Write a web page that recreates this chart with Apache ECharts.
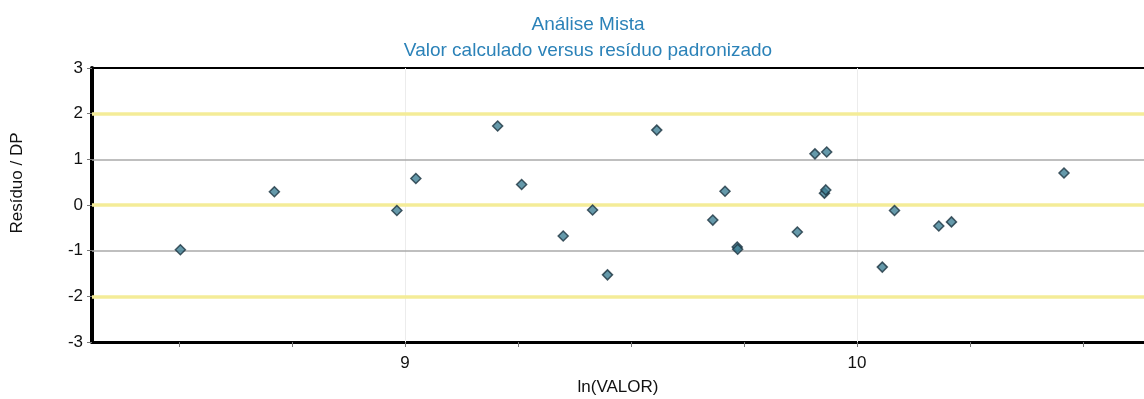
<!DOCTYPE html>
<html>
<head>
<meta charset="utf-8">
<title>Análise Mista</title>
<script src="https://cdn.jsdelivr.net/npm/echarts@6/dist/echarts.min.js"></script>
<style>
  html, body { margin: 0; padding: 0; background: #fff; }
  #chart { width: 1144px; height: 399px; }
</style>
</head>
<body>
<div id="chart"></div>
<script>
// ln(VALOR) of each observation (x) and standardized residual (y)
const lnValor = [8.503, 8.711, 8.982, 9.024, 9.205, 9.258, 9.350, 9.415, 9.448, 9.557,
                 9.681, 9.708, 9.735, 9.736, 9.868, 9.907, 9.933, 9.928, 9.931, 10.056,
                 10.083, 10.181, 10.209, 10.458];
const residuoDP = [-0.98, 0.29, -0.12, 0.58, 1.73, 0.45, -0.68, -0.11, -1.53, 1.64,
                   -0.33, 0.30, -0.92, -0.97, -0.59, 1.12, 1.16, 0.26, 0.33, -1.36,
                   -0.12, -0.46, -0.37, 0.70];

// axis ticks and labels
const xTicks = [8.5, 8.75, 9, 9.25, 9.5, 9.75, 10, 10.25, 10.5];
const xLabels = [9, 10];
const yTicks = [-3, -2, -1, 0, 1, 2, 3];
const bandLines = [-2, 0, 2];   // yellow reference lines
const unitLines = [-1, 1];      // grey reference lines
const vertLines = [9, 10];

const X_MIN = 8.3075, X_MAX = 10.635;

const points = lnValor.map((x, i) => [x, residuoDP[i]]);

const chart = echarts.init(document.getElementById('chart'));
const FONT = '"Liberation Sans", Arial, sans-serif';

chart.setOption({
  animation: false,
  backgroundColor: '#ffffff',
  title: {
    text: 'Análise Mista\nValor calculado versus resíduo padronizado',
    left: 583,
    top: 7,
    textAlign: 'center',
    textStyle: { color: '#2b82b8', fontFamily: FONT, fontSize: 19, fontWeight: 'normal', lineHeight: 26 }
  },
  graphic: [{
    type: 'text',
    x: 17,
    y: 183,
    rotation: Math.PI / 2,
    style: {
      text: 'Resíduo / DP',
      fill: '#111',
      font: '17px "Liberation Sans", Arial, sans-serif',
      align: 'center',
      verticalAlign: 'middle'
    }
  }],
  grid: { left: 92, right: 0, top: 68, bottom: 57, outerBoundsMode: 'none', containLabel: false },
  xAxis: [
    {
      type: 'value',
      min: X_MIN,
      max: X_MAX,
      name: 'ln(VALOR)',
      nameLocation: 'middle',
      nameGap: 37,
      nameTextStyle: { color: '#111', fontFamily: FONT, fontSize: 17 },
      axisLine: { show: true, onZero: false, lineStyle: { color: '#000', width: 3 } },
      axisTick: { show: true, customValues: xTicks, length: 5, lineStyle: { color: '#777', width: 1 } },
      axisLabel: { customValues: xLabels, color: '#111', fontFamily: FONT, fontSize: 17, margin: 13 },
      splitLine: { show: false }
    },
    {
      // top frame line
      type: 'value',
      position: 'top',
      min: X_MIN,
      max: X_MAX,
      axisLine: { show: true, onZero: false, lineStyle: { color: '#000', width: 2 } },
      axisTick: { show: false },
      axisLabel: { show: false },
      splitLine: { show: false }
    }
  ],
  yAxis: {
    type: 'value',
    min: -3,
    max: 3,
    interval: 1,
    axisLine: { show: true, onZero: false, lineStyle: { color: '#000', width: 4 } },
    axisTick: { show: true, customValues: yTicks, length: 5, lineStyle: { color: '#777', width: 1 } },
    axisLabel: { color: '#111', fontFamily: FONT, fontSize: 17, margin: 9 },
    splitLine: { show: false }
  },
  series: [
    {
      type: 'scatter',
      data: points,
      symbol: 'diamond',
      symbolSize: 10,
      z: 5,
      itemStyle: { color: '#3f7f95', borderColor: '#1b3340', borderWidth: 1.5 },
      markLine: {
        silent: true,
        symbol: 'none',
        label: { show: false },
        z: 1,
        data: [
          ...vertLines.map(v => ({ xAxis: v, lineStyle: { color: '#ececec', width: 1, type: 'solid' } })),
          ...unitLines.map(v => ({ yAxis: v, lineStyle: { color: '#aaaaaa', width: 1.5, type: 'solid' } })),
          ...bandLines.map(v => ({ yAxis: v, lineStyle: { color: '#f4ec98', width: 3.5, type: 'solid' } }))
        ]
      }
    }
  ]
});
</script>
</body>
</html>
